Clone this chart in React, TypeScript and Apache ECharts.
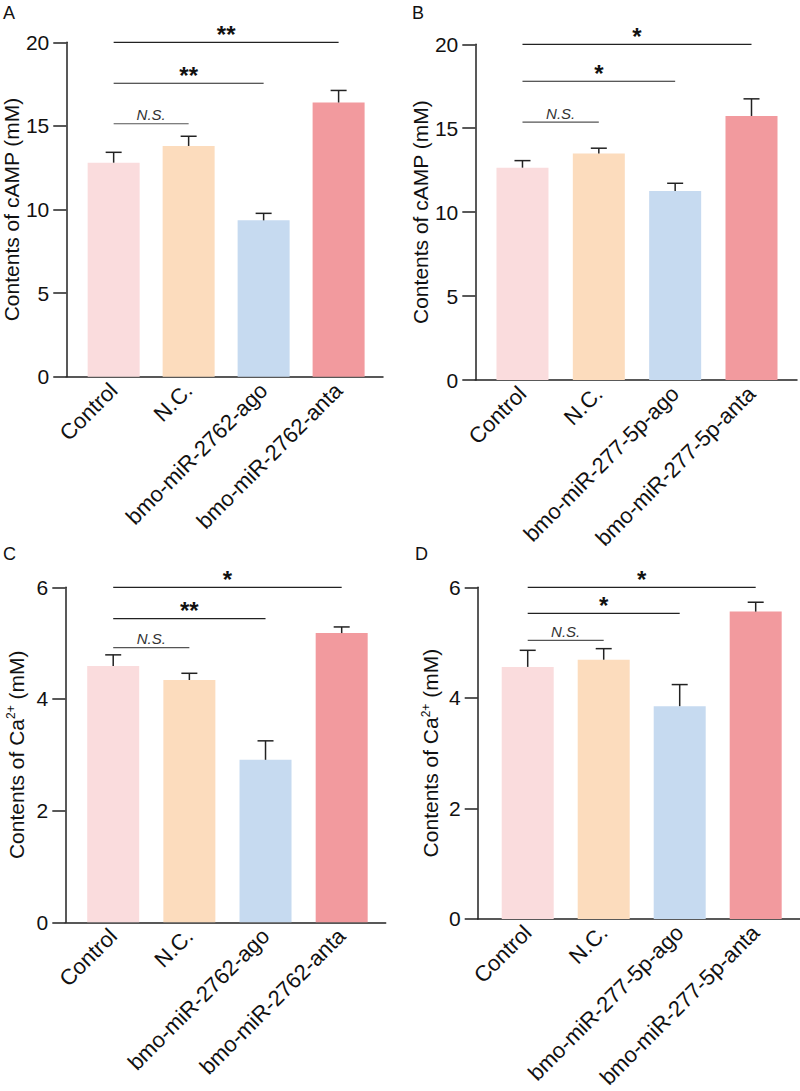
import React, { useEffect, useRef } from "react";
import * as echarts from "echarts";

const FONT = "'Liberation Sans', Arial, Helvetica, sans-serif";

// ---- data ----
const categories2762 = ["Control", "N.C.", "bmo-miR-2762-ago", "bmo-miR-2762-anta"];
const categories277 = ["Control", "N.C.", "bmo-miR-277-5p-ago", "bmo-miR-277-5p-anta"];

const campMean2762 = [12.8, 13.8, 9.35, 16.4];
const campErr2762 = [0.62, 0.58, 0.42, 0.72];
const campMean277 = [12.65, 13.49, 11.26, 15.73];
const campErr277 = [0.42, 0.32, 0.46, 1.02];
const caMean2762 = [4.59, 4.34, 2.91, 5.18];
const caErr2762 = [0.2, 0.12, 0.34, 0.11];
const caMean277 = [4.56, 4.69, 3.85, 5.56];
const caErr277 = [0.3, 0.2, 0.39, 0.17];

// [from index, to index, bracket level, label]
const sigA: [number, number, number, string][] = [
  [0, 1, 15.13, "N.S."],
  [0, 2, 17.55, "**"],
  [0, 3, 20.0, "**"],
];
const sigB: [number, number, number, string][] = [
  [0, 1, 15.36, "N.S."],
  [0, 2, 17.8, "*"],
  [0, 3, 20.0, "*"],
];
const sigC: [number, number, number, string][] = [
  [0, 1, 4.92, "N.S."],
  [0, 2, 5.44, "**"],
  [0, 3, 6.0, "*"],
];
const sigD: [number, number, number, string][] = [
  [0, 1, 5.04, "N.S."],
  [0, 2, 5.53, "*"],
  [0, 3, 6.0, "*"],
];

const yTicksCamp = { min: 0, max: 20, interval: 5 };
const yTicksCa = { min: 0, max: 6, interval: 2 };

const barColors = ["#FADCDD", "#FCDCBD", "#C6DAF0", "#F29A9E"];

const panels = [
  {
    letter: "A", cats: categories2762, mean: campMean2762, err: campErr2762, sig: sigA,
    y: yTicksCamp, yName: "Contents of cAMP (mM)",
    grid: { left: 62, top: 42.3, width: 321, height: 334.4 },
    xMin: -0.632, xMax: 3.592, nameGap: 38, letterPos: [3, 4],
  },
  {
    letter: "B", cats: categories277, mean: campMean277, err: campErr277, sig: sigB,
    y: yTicksCamp, yName: "Contents of cAMP (mM)",
    grid: { left: 475.3, top: 44.3, width: 321.7, height: 335.7 },
    xMin: -0.618, xMax: 3.596, nameGap: 41, letterPos: [412, 4],
  },
  {
    letter: "C", cats: categories2762, mean: caMean2762, err: caErr2762, sig: sigC,
    y: yTicksCa, yName: "Contents of Ca{sup|2+} (mM)",
    grid: { left: 65.3, top: 587.3, width: 320.4, height: 335 },
    xMin: -0.629, xMax: 3.578, nameGap: 38, letterPos: [3, 545],
  },
  {
    letter: "D", cats: categories277, mean: caMean277, err: caErr277, sig: sigD,
    y: yTicksCa, yName: "Contents of Ca{sup|2+} (mM)",
    grid: { left: 477.7, top: 587.3, width: 322.3, height: 335.4 },
    xMin: -0.658, xMax: 3.583, nameGap: 36, letterPos: [415, 545],
  },
];

function buildOption() {
  const grid: any[] = [];
  const xAxis: any[] = [];
  const yAxis: any[] = [];
  const series: any[] = [];
  const title: any[] = [];

  panels.forEach((p, i) => {
    grid.push({ ...p.grid, containLabel: false });
    title.push({
      text: p.letter,
      left: p.letterPos[0],
      top: p.letterPos[1],
      textStyle: { fontFamily: FONT, fontSize: 18, fontWeight: "normal", color: "#111" },
      padding: 0,
    });
    const cats = p.cats;
    xAxis.push({
      type: "value",
      gridIndex: i,
      min: p.xMin,
      max: p.xMax,
      splitLine: { show: false },
      axisTick: { show: false },
      axisLine: { show: true, onZero: false, lineStyle: { color: "#222", width: 1.5 } },
      axisLabel: {
        customValues: [0, 1, 2, 3],
        formatter: (v: number) => cats[Math.round(v)] ?? "",
        rotate: 45,
        margin: 10,
        fontFamily: FONT,
        fontSize: 22,
        color: "#111",
        hideOverlap: false,
      },
    });
    yAxis.push({
      type: "value",
      gridIndex: i,
      position: "left",
      min: p.y.min,
      max: p.y.max,
      interval: p.y.interval,
      splitLine: { show: false },
      axisLine: { show: true, onZero: false, lineStyle: { color: "#222", width: 1.5 } },
      axisTick: { show: true, length: 13, lineStyle: { color: "#222", width: 1.5 } },
      axisLabel: { margin: 17, fontFamily: FONT, fontSize: 21, color: "#111" },
      name: p.yName,
      nameLocation: "middle",
      nameGap: p.nameGap,
      nameRotate: 90,
      nameTextStyle: {
        fontFamily: FONT,
        fontSize: 21,
        color: "#111",
        rich: {
          sup: { fontFamily: FONT, fontSize: 12, color: "#111", verticalAlign: "top", padding: [0, 0, 10, 0] },
        },
      },
    });

    series.push({
      type: "bar",
      xAxisIndex: i,
      yAxisIndex: i,
      barWidth: 52,
      data: p.mean.map((v, k) => ({ value: [k, v], itemStyle: { color: barColors[k] } })),
      z: 2,
    });

    series.push({
      type: "custom",
      xAxisIndex: i,
      yAxisIndex: i,
      z: 3,
      data: p.mean.map((v, k) => [k, v, p.err[k]]),
      renderItem: (params: any, api: any) => {
        const x = api.value(0);
        const m = api.value(1);
        const e = api.value(2);
        const p0 = api.coord([x, m]);
        const p1 = api.coord([x, m + e]);
        const style = { stroke: "#222", lineWidth: 1.5 };
        return {
          type: "group",
          children: [
            { type: "line", shape: { x1: p0[0], y1: p0[1], x2: p1[0], y2: p1[1] }, style },
            { type: "line", shape: { x1: p1[0] - 8, y1: p1[1], x2: p1[0] + 8, y2: p1[1] }, style },
          ],
        };
      },
    });

    series.push({
      type: "custom",
      xAxisIndex: i,
      yAxisIndex: i,
      z: 4,
      clip: false,
      data: p.sig.map((s) => [s[0], s[1], s[2], s[3]]),
      renderItem: (params: any, api: any) => {
        const s = p.sig[params.dataIndex];
        const a = api.coord([s[0], s[2]]);
        const b = api.coord([s[1], s[2]]);
        const ns = s[3] === "N.S.";
        return {
          type: "group",
          children: [
            {
              type: "line",
              shape: { x1: a[0], y1: a[1], x2: b[0], y2: b[1] },
              style: { stroke: ns ? "#555" : "#222", lineWidth: 1.2 },
            },
            {
              type: "text",
              x: (a[0] + b[0]) / 2,
              y: a[1] - (ns ? 9 : 8),
              style: {
                text: s[3],
                align: "center",
                verticalAlign: "middle",
                fontFamily: FONT,
                fontSize: ns ? 15 : 24,
                fontStyle: ns ? "italic" : "normal",
                fontWeight: ns ? "normal" : "bold",
                fill: ns ? "#333" : "#111",
              },
            },
          ],
        };
      },
    });
  });

  return { animation: false, backgroundColor: "#fff", title, grid, xAxis, yAxis, series };
}

export default function App() {
  const ref = useRef<HTMLDivElement>(null);
  useEffect(() => {
    document.body.style.margin = "0";
    if (!ref.current) return;
    const chart = echarts.init(ref.current, undefined, { renderer: "svg" });
    chart.setOption(buildOption() as any);
    return () => chart.dispose();
  }, []);
  return <div ref={ref} style={{ width: 800, height: 1091 }} />;
}
